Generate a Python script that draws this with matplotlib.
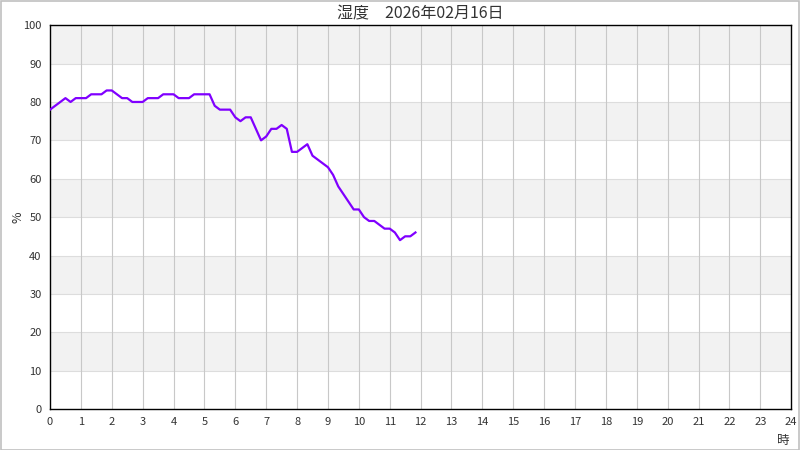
import numpy as np
import matplotlib
matplotlib.use("Agg")
import matplotlib.pyplot as plt

plt.rcParams['font.family'] = ['Noto Sans CJK JP', 'DejaVu Sans']

title = "湿度　2026年02月16日"
step_min = 10  # one reading every 10 minutes from 0:00
humidity = [78, 79, 80, 81, 80, 81, 81, 81, 82, 82, 82, 83,
            83, 82, 81, 81, 80, 80, 80, 81, 81, 81, 82, 82,
            82, 81, 81, 81, 82, 82, 82, 82, 79, 78, 78, 78,
            76, 75, 76, 76, 73, 70, 71, 73, 73, 74, 73, 67,
            67, 68, 69, 66, 65, 64, 63, 61, 58, 56, 54, 52,
            52, 50, 49, 49, 48, 47, 47, 46, 44, 45, 45, 46]
hours = np.arange(len(humidity)) * step_min / 60.0

x_ticks = list(range(0, 25))
y_ticks = list(range(0, 101, 10))

fig = plt.figure(figsize=(8, 4.5), dpi=100)
fig.patches.append(plt.Rectangle((0.001, 0.001), 0.998, 0.997, transform=fig.transFigure,
                                 fill=False, edgecolor="#c0c0c0", linewidth=1.2))
ax = fig.add_axes([0.0625, 0.091, 0.9265, 0.853])

# alternating bands
for lo in range(10, 100, 20):
    ax.axhspan(lo, lo + 10, color="#f2f2f2", zorder=0, linewidth=0)
for y in y_ticks[1:-1]:
    ax.axhline(y, color="#dddddd", linewidth=0.8, zorder=1)
for x in x_ticks[1:-1]:
    ax.axvline(x, color="#c8c8c8", linewidth=0.8, zorder=1)

ax.plot(hours, humidity, color="#8000ff", linewidth=1.6, zorder=3)

ax.set_xlim(0, 24)
ax.set_ylim(0, 100)
ax.set_xticks(x_ticks)
ax.set_yticks(y_ticks)
ax.tick_params(length=0, labelsize=8, colors="#333333", pad=6)
for s in ax.spines.values():
    s.set_color("black")
    s.set_linewidth(1)

ax.set_title(title, fontsize=11.5, color="#333333", pad=5)
fig.text(0.023, 0.518, "%", fontsize=9, color="#333333", rotation=90,
         ha="center", va="center")
fig.text(0.979, 0.022, "時", fontsize=9, color="#333333", ha="center", va="center")

fig.savefig("out.png", dpi=100)
